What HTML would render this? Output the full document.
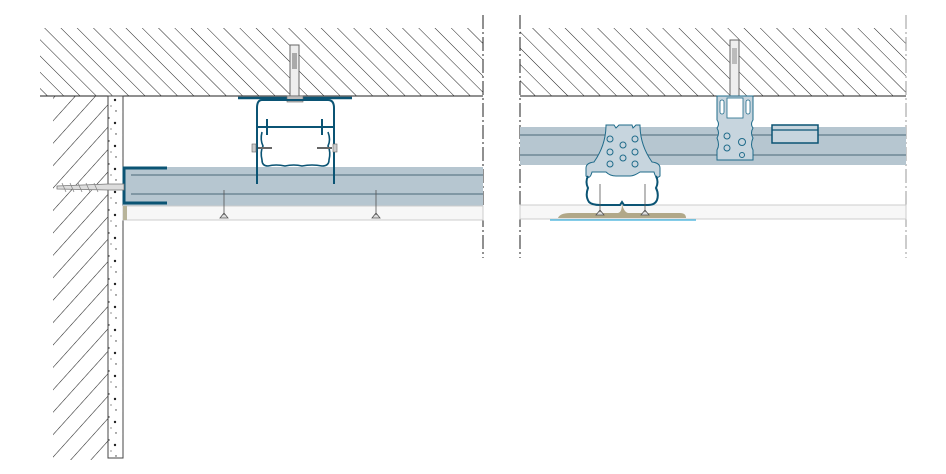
<!DOCTYPE html>
<html><head><meta charset="utf-8"><style>html,body{margin:0;padding:0;background:#fff}svg{display:block}</style></head>
<body>
<svg width="946" height="474" viewBox="0 0 946 474" xmlns="http://www.w3.org/2000/svg">
<defs>
<pattern id="hc" patternUnits="userSpaceOnUse" width="11.5" height="11.5" patternTransform="rotate(-45)">
<line x1="0" y1="0" x2="0" y2="11.5" stroke="#222" stroke-width="1"/></pattern>
<pattern id="hw" patternUnits="userSpaceOnUse" width="15" height="15" patternTransform="rotate(42)">
<line x1="0" y1="0" x2="0" y2="15" stroke="#222" stroke-width="1.1"/></pattern>
<pattern id="dots" patternUnits="userSpaceOnUse" width="15" height="23">
<circle cx="4" cy="3" r="0.7" fill="#333"/><circle cx="10" cy="8" r="1.2" fill="#222"/><circle cx="6" cy="14" r="0.6" fill="#444"/><circle cx="11" cy="19" r="0.7" fill="#333"/><circle cx="3" cy="20" r="0.5" fill="#555"/></pattern>
</defs>
<!-- LEFT PANEL -->
<rect x="40" y="28" width="443" height="68" fill="url(#hc)"/>
<line x1="40" y1="96" x2="483" y2="96" stroke="#222"/>
<rect x="53" y="96" width="55" height="364" fill="url(#hw)"/>
<rect x="108" y="96" width="15" height="362" fill="#fff" stroke="#444" stroke-width="1"/>
<rect x="108" y="96" width="15" height="362" fill="url(#dots)"/>
<line x1="483" y1="15" x2="483" y2="258" stroke="#222" stroke-dasharray="14,3,2,3"/>
<!-- band -->
<rect x="123" y="167" width="360" height="39" fill="#b6c6d0"/>
<line x1="131" y1="175" x2="483" y2="175" stroke="#6f8796" stroke-width="1.5"/>
<line x1="131" y1="194" x2="483" y2="194" stroke="#6f8796" stroke-width="1.5"/>
<rect x="123" y="206" width="360" height="14" fill="#f7f7f7" stroke="#ccc"/>
<rect x="123" y="206" width="4" height="14" fill="#b8b49a"/>
<path d="M167 168 H124 V203 H167" fill="none" stroke="#0b5474" stroke-width="3"/>
<!-- anchor -->
<path d="M57 186 L108 184 L124 184 L124 190 L108 190 L57 189 Z" fill="#ddd" stroke="#777" stroke-width="0.8"/>
<path d="M62 183 L66 192 M70 183 L74 192 M78 183 L82 192 M86 183 L90 192 M94 183 L98 192" stroke="#888" stroke-width="0.8"/>
<!-- screws -->
<g stroke="#555" fill="#ddd" stroke-width="0.8">
<path d="M224 190 L224 215 M220 218 H228 L224 213 Z"/>
<path d="M376 190 L376 215 M372 218 H380 L376 213 Z"/>
</g>
<!-- hanger -->
<rect x="290" y="45" width="9" height="51" fill="#eee" stroke="#666"/>
<rect x="292" y="53" width="5" height="16" fill="#aaa"/>
<line x1="238" y1="98" x2="352" y2="98" stroke="#0b5474" stroke-width="2.5"/>
<rect x="287" y="96" width="16" height="6" fill="#bbb" stroke="#666" stroke-width="0.6"/>
<path d="M257 184 V108 Q257 100 262 100 H328 Q334 100 334 108 V184" fill="none" stroke="#0b5474" stroke-width="2"/>
<line x1="257" y1="127" x2="334" y2="127" stroke="#0b5474" stroke-width="2"/>
<line x1="267" y1="119" x2="267" y2="135" stroke="#0b5474" stroke-width="2"/>
<line x1="322" y1="119" x2="322" y2="135" stroke="#0b5474" stroke-width="2"/>
<path d="M262 132 Q260 140 263 146 Q260 152 262 160 Q262 166 268 166 Q276 164 285 166 Q294 164 302 166 Q312 164 322 166 Q329 166 329 160 Q331 152 328 146 Q331 140 328 132" fill="none" stroke="#0b5474" stroke-width="1.6"/>
<rect x="252" y="144" width="4" height="8" fill="#ccc" stroke="#666" stroke-width="0.6"/>
<rect x="333" y="144" width="4" height="8" fill="#ccc" stroke="#666" stroke-width="0.6"/>
<path d="M258 148 H272 M317 148 H332" stroke="#666" stroke-width="2"/>
<!-- RIGHT PANEL -->
<rect x="520" y="28" width="386" height="68" fill="url(#hc)"/>
<line x1="520" y1="96" x2="906" y2="96" stroke="#222"/>
<line x1="520" y1="15" x2="520" y2="258" stroke="#222" stroke-dasharray="14,3,2,3"/>
<line x1="906" y1="15" x2="906" y2="258" stroke="#999" stroke-dasharray="14,3,2,3"/>
<rect x="520" y="127" width="386" height="38" fill="#b6c6d0"/>
<line x1="520" y1="135" x2="906" y2="135" stroke="#6f8796" stroke-width="1.5"/>
<line x1="520" y1="155" x2="906" y2="155" stroke="#6f8796" stroke-width="1.5"/>
<rect x="520" y="205" width="386" height="14" fill="#f7f7f7" stroke="#ccc"/>
<path d="M558 218 Q560 213 570 213 H618 Q622 212 622 204 Q624 212 628 213 H680 Q686 213 686 218 Z" fill="#b1a889"/>
<line x1="550" y1="220" x2="696" y2="220" stroke="#5bbbe0" stroke-width="1.5"/>
<!-- clip -->
<path d="M606 125 L614 125 L616 128 L619 125 L632 125 L633 128 L636 125 L640 125 Q640 145 652 162 Q660 163 660 168 L660 176 Q656 180 654 172 L640 172 Q634 176 630 176 L616 176 Q610 176 606 172 L592 172 Q590 180 586 176 L586 168 Q586 163 594 162 Q606 145 606 125 Z" fill="#c7d5de" stroke="#1f6b8a" stroke-width="1"/>
<path d="M588 176 Q585 182 588 188 Q585 196 589 202 Q592 205 600 205 H620 L622 202 L624 205 H648 Q655 205 657 200 Q659 194 656 188 Q659 182 656 176" fill="none" stroke="#0b5474" stroke-width="2"/>
<g fill="none" stroke="#1f6b8a" stroke-width="1"><circle cx="610" cy="139" r="3"/><circle cx="635" cy="139" r="3"/><circle cx="610" cy="152" r="3"/><circle cx="635" cy="152" r="3"/><circle cx="623" cy="145" r="3"/><circle cx="623" cy="158" r="3"/><circle cx="610" cy="164" r="3"/><circle cx="635" cy="164" r="3"/></g>
<g stroke="#555" fill="#ddd" stroke-width="0.8">
<path d="M600 184 V212 M596 215 H604 L600 210 Z"/>
<path d="M645 184 V212 M641 215 H649 L645 210 Z"/>
</g>
<!-- hanger right -->
<rect x="730" y="40" width="9" height="56" fill="#eee" stroke="#666"/>
<rect x="732" y="48" width="5" height="16" fill="#bbb"/>
<path d="M717 96 H753 V120 Q750 124 753 128 Q750 133 753 138 Q750 145 753 150 V160 H717 V150 Q720 145 717 138 Q720 133 717 128 Q720 124 717 120 Z" fill="#c7d5de" stroke="#1f6b8a" stroke-width="1"/>
<rect x="727" y="98" width="16" height="20" fill="#fff" stroke="#1f6b8a" stroke-width="0.8"/>
<rect x="720" y="100" width="4" height="14" rx="2" fill="#fff" stroke="#1f6b8a" stroke-width="0.8"/>
<rect x="746" y="100" width="4" height="14" rx="2" fill="#fff" stroke="#1f6b8a" stroke-width="0.8"/>
<g fill="none" stroke="#1f6b8a" stroke-width="1"><circle cx="727" cy="136" r="3"/><circle cx="727" cy="148" r="3"/><circle cx="742" cy="142" r="3.5"/><circle cx="742" cy="155" r="2.5"/></g>
<rect x="772" y="125" width="46" height="18" fill="#c7d5de" stroke="#0b5474" stroke-width="1.5"/>
<line x1="772" y1="130" x2="818" y2="130" stroke="#0b5474" stroke-width="1.2"/>
</svg>
</body></html>
